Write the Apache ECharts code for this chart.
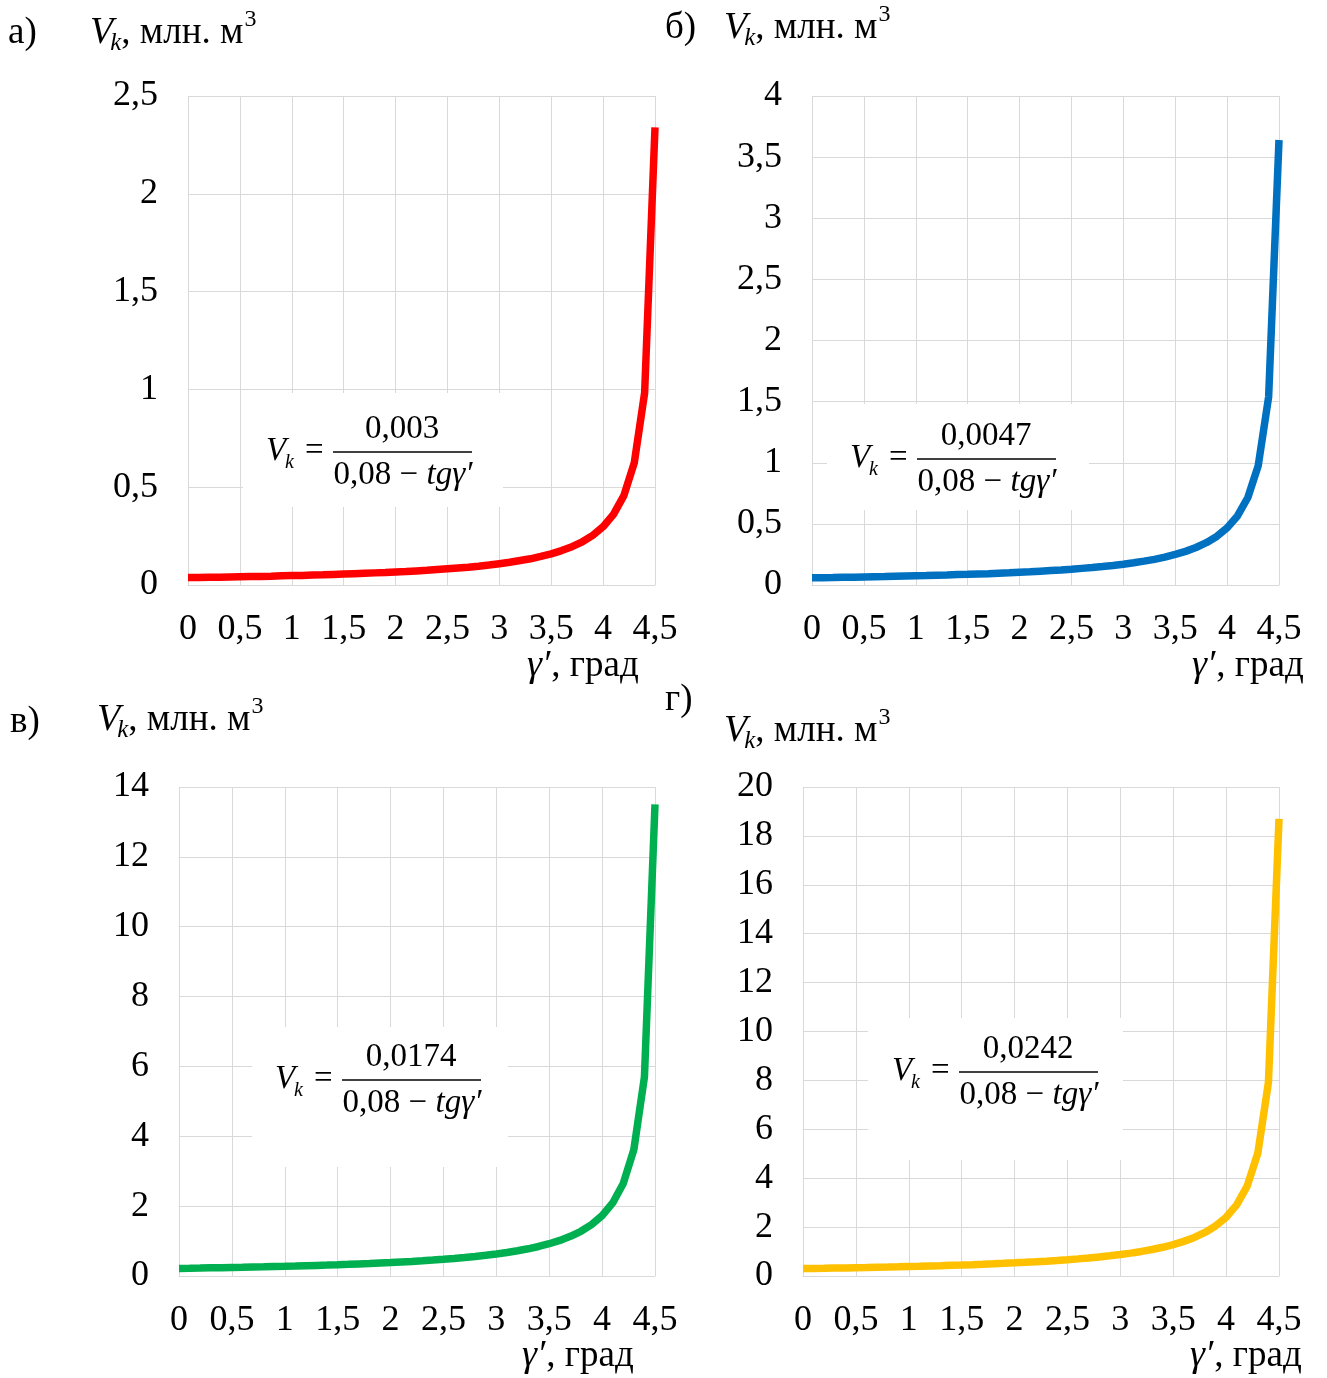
<!DOCTYPE html>
<html><head><meta charset="utf-8">
<script src="https://cdn.jsdelivr.net/npm/echarts@6/dist/echarts.min.js"></script>
<style>html,body{margin:0;padding:0;background:#fff}#c{width:1327px;height:1378px}</style>
</head><body><div id="c"></div>
<script>
// ---- data ----
const angles = [0,0.1,0.2,0.3,0.4,0.5,0.6,0.7,0.8,0.9,1.0,1.1,1.2,1.3,1.4,1.5,1.6,1.7,1.8,1.9,2.0,2.1,2.2,2.3,2.4,2.5,2.6,2.7,2.8,2.9,3.0,3.1,3.2,3.3,3.4,3.5,3.6,3.7,3.8,3.9,4.0,4.1,4.2,4.3,4.4,4.5];
const volA = [0.038,0.038,0.039,0.040,0.041,0.042,0.043,0.044,0.045,0.047,0.048,0.049,0.051,0.052,0.054,0.056,0.058,0.060,0.062,0.064,0.067,0.069,0.072,0.075,0.079,0.083,0.087,0.091,0.096,0.102,0.109,0.116,0.125,0.134,0.146,0.159,0.176,0.196,0.221,0.254,0.298,0.361,0.457,0.624,0.982,2.34];
const volB = [0.059,0.060,0.061,0.063,0.064,0.066,0.068,0.069,0.071,0.073,0.075,0.077,0.080,0.082,0.085,0.087,0.090,0.093,0.097,0.100,0.104,0.108,0.113,0.118,0.123,0.129,0.136,0.143,0.151,0.160,0.170,0.182,0.195,0.210,0.228,0.250,0.275,0.307,0.346,0.397,0.467,0.565,0.716,0.977,1.538,3.64];
const volC = [0.218,0.222,0.227,0.233,0.238,0.244,0.250,0.257,0.263,0.271,0.278,0.286,0.295,0.304,0.313,0.323,0.334,0.346,0.358,0.372,0.386,0.402,0.418,0.437,0.457,0.479,0.503,0.530,0.560,0.593,0.631,0.673,0.722,0.779,0.845,0.924,1.018,1.135,1.281,1.471,1.727,2.091,2.650,3.617,5.695,13.5];
const volD = [0.303,0.309,0.316,0.324,0.331,0.340,0.348,0.357,0.366,0.376,0.387,0.398,0.410,0.422,0.436,0.450,0.465,0.481,0.498,0.517,0.537,0.558,0.582,0.607,0.635,0.666,0.700,0.737,0.778,0.825,0.877,0.936,1.005,1.083,1.175,1.285,1.416,1.578,1.782,2.046,2.402,2.909,3.686,5.031,7.921,18.7];
const yMax = [2.5, 4, 14, 20];
const yStep = [0.5, 0.5, 2, 2];
const numerators = ['0,003', '0,0047', '0,0174', '0,0242'];
const panelLetters = ['а)', 'б)', 'в)', 'г)'];
const colors = ['#FF0000', '#0070C0', '#00B050', '#FFC000'];
const yName = ', млн. м';
const xName = ', град';

// ---- layout ----
const FF = '"Liberation Serif", "Times New Roman", serif';
const grids = [
  {left:188, top:96, width:467, height:489},
  {left:812, top:96, width:467, height:489},
  {left:179, top:787, width:476, height:489},
  {left:803, top:787, width:476, height:489}
];
const series = [volA, volB, volC, volD];

const mctx = document.createElement('canvas').getContext('2d');
function tw(t, size, italic){ mctx.font = (italic?'italic ':'') + size + 'px ' + FF; return mctx.measureText(t).width; }
function txt(x, y, t, size, italic, align){
  return {type:'text', x:x, y:y, z:5, style:{text:t, fontSize:size, fontFamily:FF, fontStyle: italic?'italic':'normal', fill:'#000',
    align: align||'left', verticalAlign:'middle', textAlign: align||'left', textVerticalAlign:'middle'}};
}
const fmt = v => String(+v.toFixed(2)).replace('.', ',');

const graphic = [];
// Panel titles
const titles = [
  {lx:8, ly:33, vx:90, vy:33},
  {lx:665, ly:28, vx:724, vy:28},
  {lx:10, ly:722, vx:97, vy:720},
  {lx:665, ly:700, vx:724, vy:731}
];
titles.forEach((t,i)=>{
  graphic.push(txt(t.lx, t.ly, panelLetters[i], 37, false));
  let x = t.vx;
  graphic.push(txt(x, t.vy, 'V', 38, true));
  x += tw('V', 38, true) - 3;
  graphic.push(txt(x, t.vy + 10, 'k', 25, true));
  x += tw('k', 25, true);
  graphic.push(txt(x, t.vy, yName, 37, false));
  x += tw(yName, 37, false) + 1;
  graphic.push(txt(x, t.vy - 13, '3', 24, false));
});
// x-axis names
const xNames = [{x:527, y:666}, {x:1192, y:666}, {x:522, y:1356}, {x:1190, y:1356}];
xNames.forEach(p=>{
  graphic.push(txt(p.x, p.y, 'γ′', 38, true));
  graphic.push(txt(p.x + tw('γ′', 38, true) + 1, p.y, xName, 37, false));
});
// formula boxes
const boxes = [
  {x:243, y:393, w:260, h:114, vx:266, ly:451},
  {x:827, y:404, w:262, h:106, vx:850, ly:458},
  {x:252, y:1027, w:256, h:140, vx:275, ly:1079},
  {x:868, y:1018, w:255, h:142, vx:892, ly:1071}
];
boxes.forEach((b,i)=>{
  graphic.push({type:'rect', z:1, shape:{x:b.x, y:b.y, width:b.w, height:b.h}, style:{fill:'#fff'}});
  graphic.push(txt(b.vx, b.ly, 'V', 33, true));
  graphic.push(txt(b.vx + 19, b.ly + 12, 'k', 20, true));
  graphic.push(txt(b.vx + 39, b.ly, '=', 33, false));
  graphic.push({type:'line', z:5, shape:{x1:b.vx+67, y1:b.ly+1, x2:b.vx+206, y2:b.ly+1}, style:{stroke:'#000', lineWidth:1.3}});
  graphic.push(txt(b.vx + 136, b.ly - 22, numerators[i], 33, false, 'center'));
  graphic.push({type:'text', x:b.vx + 137, y:b.ly + 24, z:5, style:{
    text:'{n|0,08 − }{i|tgγ′}', align:'center', verticalAlign:'middle', textAlign:'center', textVerticalAlign:'middle',
    rich:{ n:{fontSize:33, fontFamily:FF, fill:'#000'}, i:{fontSize:33, fontFamily:FF, fontStyle:'italic', fill:'#000'} }
  }});
});

const gridLine = '#d9d9d9';
const option = {
  animation:false,
  backgroundColor:'#fff',
  grid: grids,
  xAxis: grids.map((g,i)=>({
    type:'value', gridIndex:i, min:0, max:4.5, interval:0.5,
    axisLine:{show:true, lineStyle:{color:gridLine}}, axisTick:{show:false},
    splitLine:{show:true, lineStyle:{color:gridLine, width:1}},
    axisLabel:{fontSize:36, fontFamily:FF, color:'#000', margin:27, formatter:fmt}
  })),
  yAxis: grids.map((g,i)=>({
    type:'value', gridIndex:i, min:0, max:yMax[i], interval:yStep[i],
    axisLine:{show:false}, axisTick:{show:false},
    splitLine:{show:true, lineStyle:{color:gridLine, width:1}},
    axisLabel:{fontSize:36, fontFamily:FF, color:'#000', margin:30, formatter:fmt}
  })),
  series: series.map((s,i)=>({
    type:'line', xAxisIndex:i, yAxisIndex:i, z:3,
    data: angles.map((a,j)=>[a, s[j]]),
    showSymbol:false, smooth:false,
    lineStyle:{color:colors[i], width:7.5},
    itemStyle:{color:colors[i]}
  })),
  graphic: graphic
};
const chart = echarts.init(document.getElementById('c'), null, {renderer:'canvas'});
chart.setOption(option);
</script>
</body></html>
